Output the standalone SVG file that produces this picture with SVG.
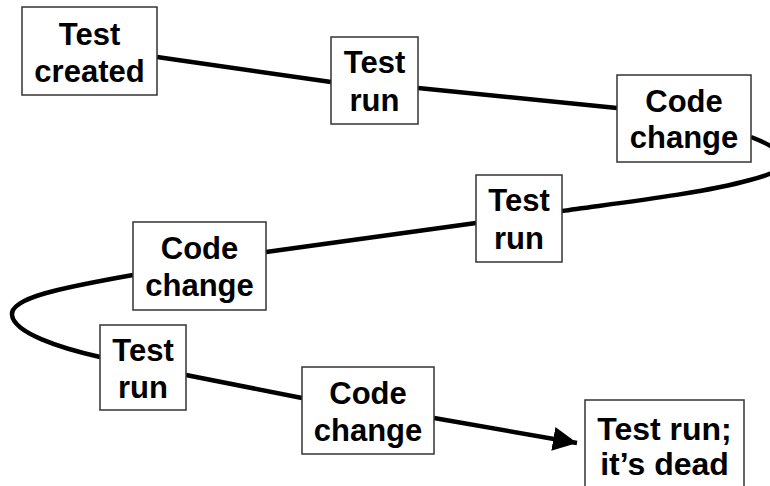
<svg xmlns="http://www.w3.org/2000/svg" width="770" height="486" viewBox="0 0 770 486">
  <style>
    .box { fill: #ffffff; stroke: #333333; stroke-width: 1.5; }
    .lbl { font-family: "Liberation Sans", Arial, sans-serif; font-weight: bold; font-size: 31px; fill: #000000; text-anchor: middle; }
    .big { font-size: 32px; }
    .wire { fill: none; stroke: #000000; stroke-width: 4.5; stroke-linecap: butt; }
  </style>
  <defs>
    <marker id="arrow" markerUnits="userSpaceOnUse" markerWidth="26" markerHeight="24" refX="24" refY="12" orient="auto">
      <path d="M0,0 L24,12 L0,24 Z" fill="#000000"/>
    </marker>
  </defs>

  <rect width="770" height="486" fill="#ffffff"/>

  <!-- connectors: the winding timeline of the test's life -->
  <g id="connectors">
    <path class="wire" d="M157,57 L331,82"/>
    <path class="wire" d="M418,88 L617,108"/>
    <path class="wire" d="M751,137 C 800,156 790,170 750,180 C 700,194 610,204 562,211"/>
    <path class="wire" d="M476,223 L266,252"/>
    <path class="wire" d="M133,275 C 60,288 10,298 12,315 C 14,333 60,348 100,357"/>
    <path class="wire" d="M186,375 L302,398"/>
    <path class="wire" d="M434,418 L577,443" marker-end="url(#arrow)"/>
  </g>

  <g id="test-created">
    <rect class="box" x="22" y="7" width="135" height="88"/>
    <text class="lbl" x="89.5" y="45">Test</text>
    <text class="lbl" x="89.5" y="82">created</text>
  </g>

  <g id="test-run-1">
    <rect class="box" x="331" y="37" width="87" height="87"/>
    <text class="lbl" x="374.5" y="73">Test</text>
    <text class="lbl" x="374.5" y="111">run</text>
  </g>

  <g id="code-change-1">
    <rect class="box" x="617" y="75" width="134" height="87"/>
    <text class="lbl" x="684" y="112">Code</text>
    <text class="lbl" x="684" y="148">change</text>
  </g>

  <g id="test-run-2">
    <rect class="box" x="476" y="175" width="86" height="87"/>
    <text class="lbl" x="519" y="211">Test</text>
    <text class="lbl" x="519" y="249">run</text>
  </g>

  <g id="code-change-2">
    <rect class="box" x="133" y="222" width="133" height="88"/>
    <text class="lbl" x="199.5" y="259">Code</text>
    <text class="lbl" x="199.5" y="296">change</text>
  </g>

  <g id="test-run-3">
    <rect class="box" x="100" y="325" width="86" height="85"/>
    <text class="lbl" x="143" y="361">Test</text>
    <text class="lbl" x="143" y="398">run</text>
  </g>

  <g id="code-change-3">
    <rect class="box" x="302" y="367" width="132" height="87"/>
    <text class="lbl" x="368" y="404">Code</text>
    <text class="lbl" x="368" y="441">change</text>
  </g>

  <g id="test-run-dead">
    <rect class="box" x="585" y="400" width="159" height="100"/>
    <text class="lbl big" x="664.5" y="440">Test run;</text>
    <text class="lbl big" x="664.5" y="475">it’s dead</text>
  </g>
</svg>
